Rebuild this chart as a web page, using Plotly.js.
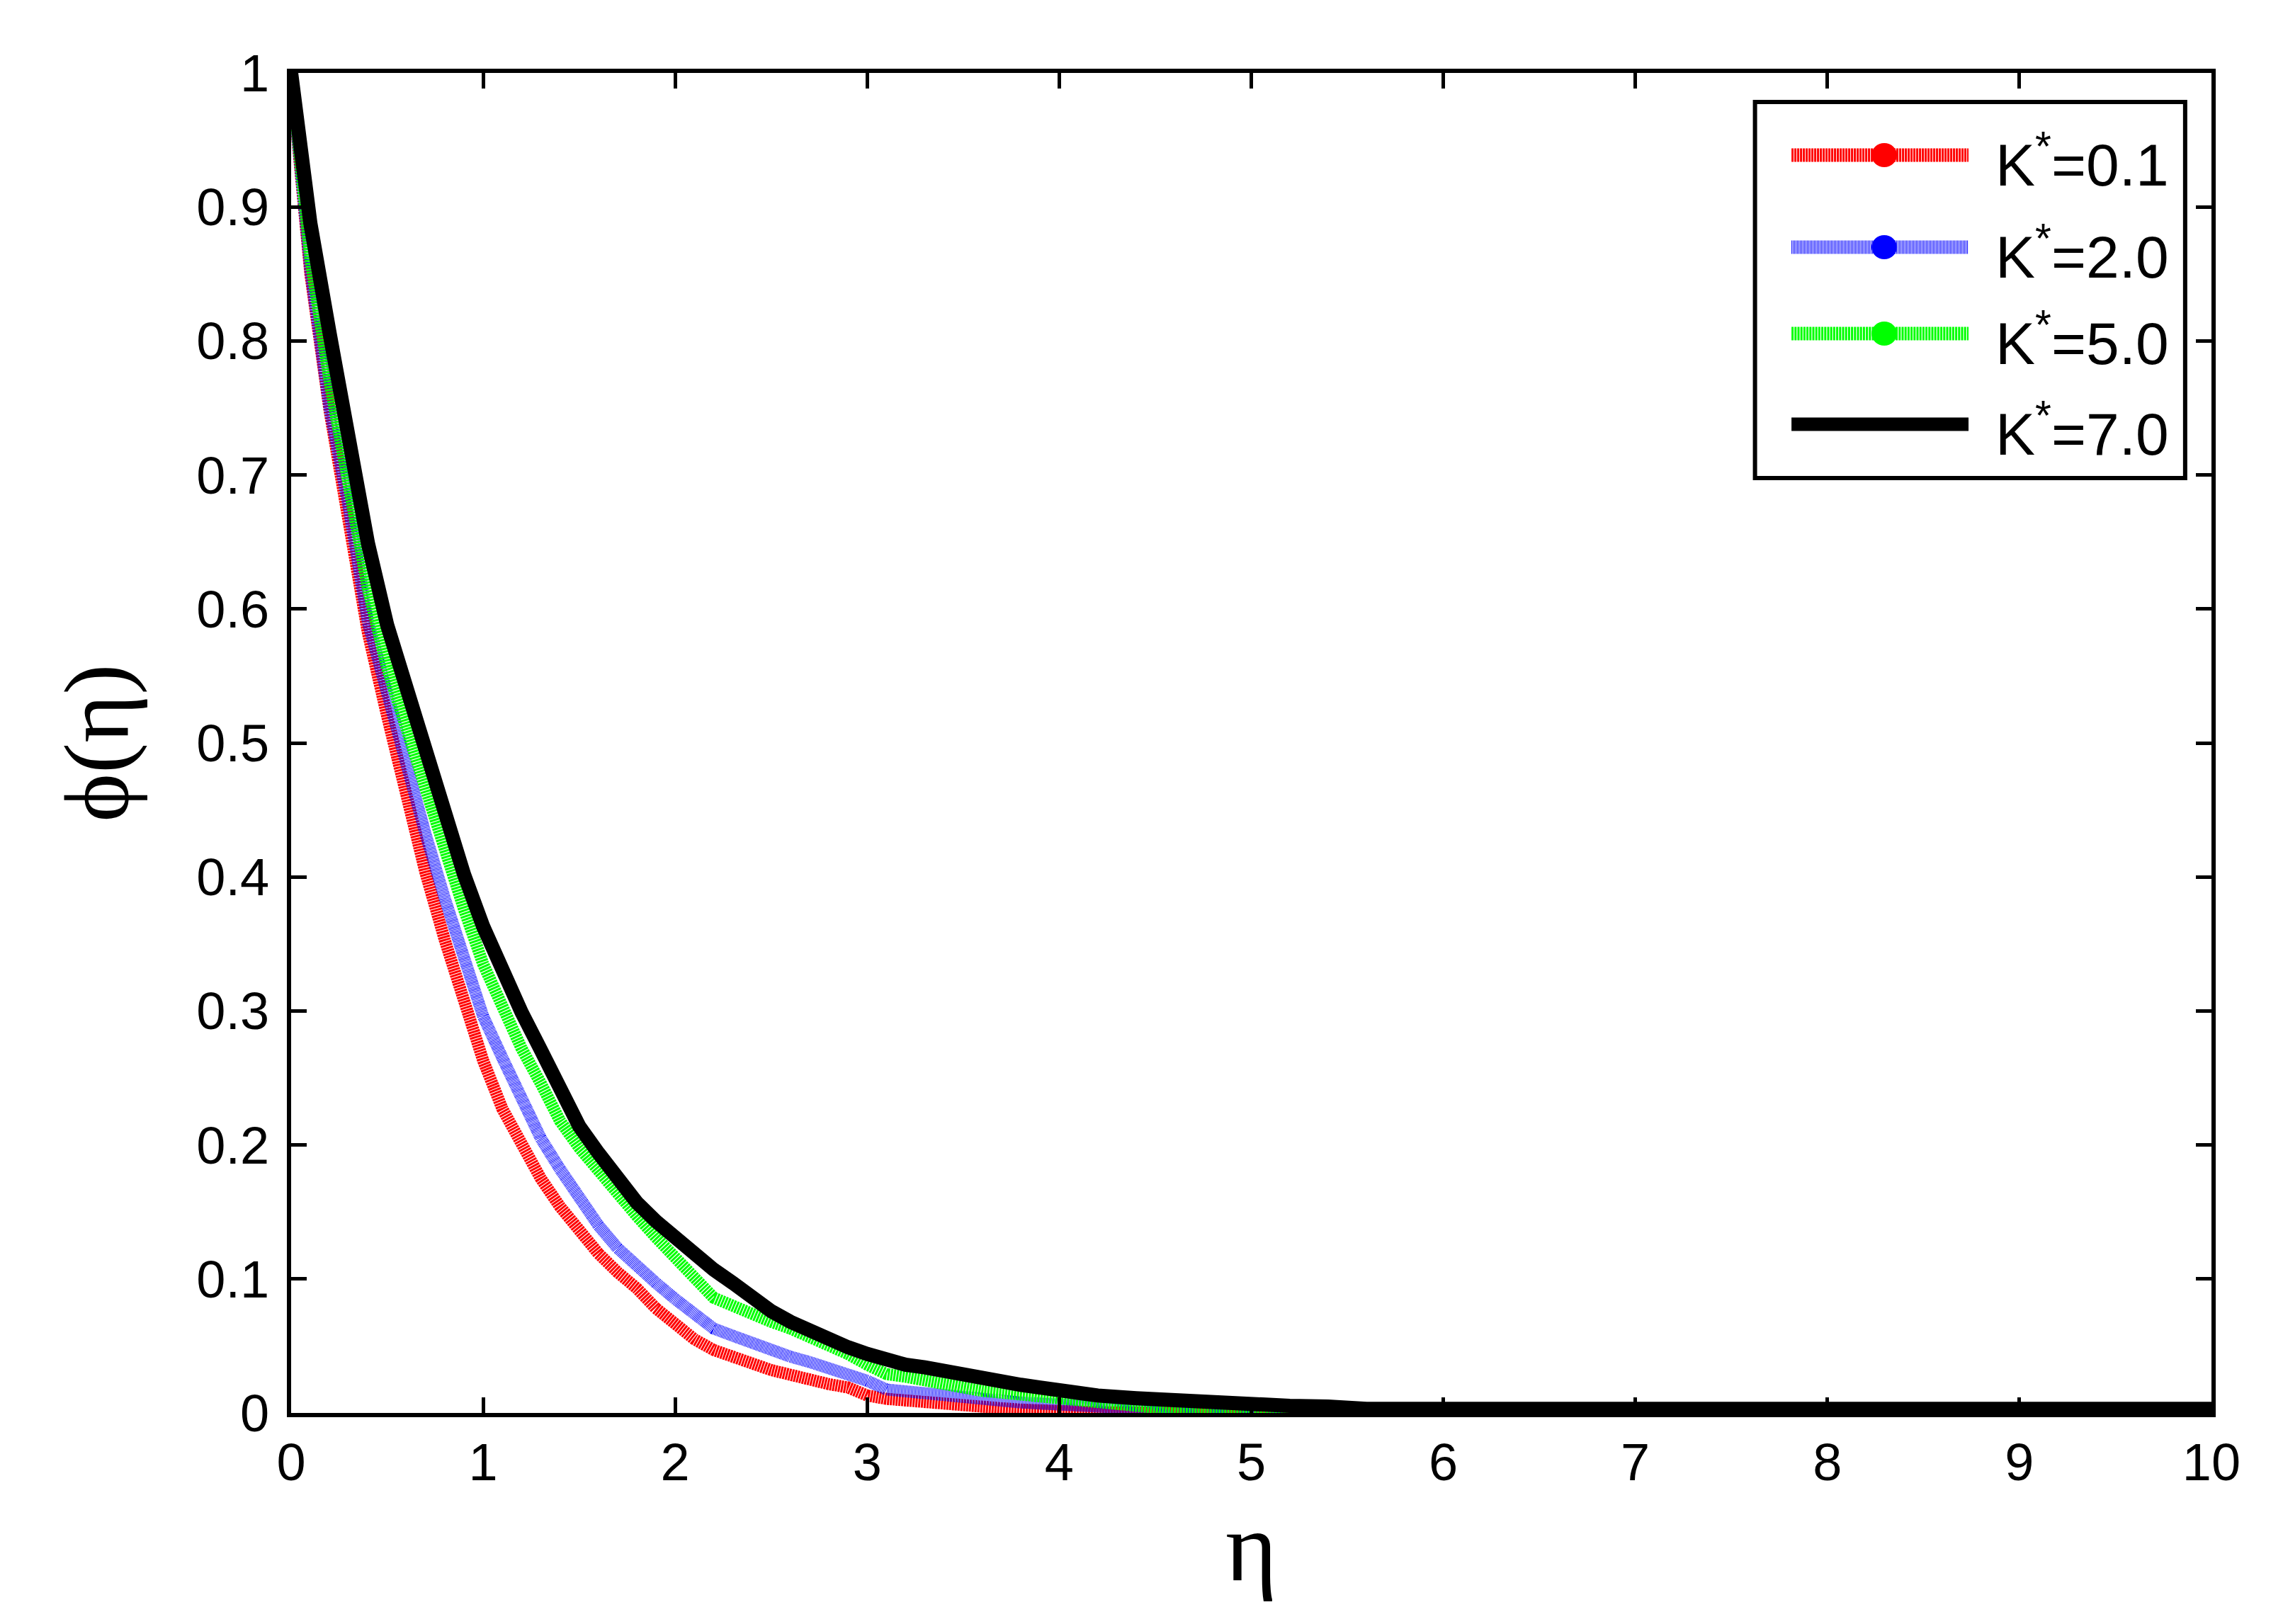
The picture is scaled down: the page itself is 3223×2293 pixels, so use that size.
<!DOCTYPE html>
<html>
<head>
<meta charset="utf-8">
<script src="https://cdn.plot.ly/plotly-3.0.1.min.js"></script>
<style>
  html, body { margin: 0; padding: 0; background: #ffffff; }
  #chart { width: 3223px; height: 2293px; }
</style>
</head>
<body>
<div id="chart"></div>
<script>
// ---- data ----
const eta = [0, 0.1, 0.2, 0.3, 0.4, 0.5, 0.6, 0.7, 0.8, 0.9,
             1.0, 1.1, 1.2, 1.3, 1.4, 1.5, 1.6, 1.7, 1.8, 1.9,
             2.0, 2.1, 2.2, 2.3, 2.4, 2.5, 2.6, 2.7, 2.8, 2.9,
             3.0, 3.1, 3.2, 3.3, 3.4, 3.5, 3.6, 3.7, 3.8, 3.9,
             4.0, 4.2, 4.4, 4.6, 4.8, 5.0, 5.2, 5.4, 5.6,
             6, 7, 8, 9, 10];

const phiK01 = [1.0, 0.85, 0.748, 0.664, 0.582, 0.52, 0.459, 0.403, 0.353, 0.305,
                0.263, 0.227, 0.199, 0.175, 0.154, 0.135, 0.119, 0.105, 0.093, 0.078,
                0.066, 0.055, 0.047, 0.041, 0.037, 0.032, 0.028, 0.025, 0.0215, 0.019,
                0.013, 0.0105, 0.009, 0.0078, 0.006, 0.0048, 0.0043, 0.0035, 0.0025, 0.0015,
                0.0008, 0.0005, 0.0003, 0.0002, 0.0001, 0, 0, 0, 0,
                0, 0, 0, 0, 0];

const phiK20 = [1.0, 0.853, 0.75, 0.676, 0.59, 0.535, 0.486, 0.432, 0.384, 0.339,
                0.296, 0.265, 0.233, 0.205, 0.182, 0.160, 0.140, 0.123, 0.109, 0.097,
                0.085, 0.073, 0.063, 0.0576, 0.052, 0.047, 0.042, 0.038, 0.034, 0.0295,
                0.024, 0.0175, 0.0158, 0.015, 0.0135, 0.011, 0.0097, 0.0088, 0.0078, 0.007,
                0.006, 0.0045, 0.003, 0.0018, 0.001, 0.0005, 0, 0, 0,
                0, 0, 0, 0, 0];

const phiK50 = [1.0, 0.862, 0.77, 0.698, 0.615, 0.556, 0.51, 0.465, 0.419, 0.376,
                0.335, 0.303, 0.272, 0.246, 0.218, 0.198, 0.18, 0.163, 0.147, 0.131,
                0.115, 0.099, 0.086, 0.080, 0.073, 0.068, 0.063, 0.057, 0.050, 0.044,
                0.036, 0.029, 0.027, 0.025, 0.022, 0.019, 0.0165, 0.015, 0.013, 0.011,
                0.0095, 0.007, 0.0045, 0.0026, 0.0015, 0.001, 0.0007, 0.0004, 0,
                0, 0, 0, 0, 0];

const phiK70 = [1.0, 0.888, 0.806, 0.72, 0.649, 0.588, 0.541, 0.499, 0.452, 0.402,
                0.363, 0.329, 0.299, 0.271, 0.243, 0.214, 0.194, 0.175, 0.157, 0.143,
                0.130, 0.119, 0.107, 0.097, 0.086, 0.076, 0.068, 0.061, 0.055, 0.049,
                0.044, 0.039, 0.036, 0.034, 0.031, 0.0275, 0.025, 0.023, 0.021, 0.019,
                0.0165, 0.013, 0.011, 0.009, 0.0075, 0.0062, 0.0053, 0.0048, 0.003,
                0.003, 0.003, 0.003, 0.003, 0.003];

const seriesNames = ['K<sup>*</sup>=0.1', 'K<sup>*</sup>=2.0', 'K<sup>*</sup>=5.0', 'K<sup>*</sup>=7.0'];
const xTickVals = [0, 1, 2, 3, 4, 5, 6, 7, 8, 9, 10];
const yTickVals = [0, 0.1, 0.2, 0.3, 0.4, 0.5, 0.6, 0.7, 0.8, 0.9, 1];

// ---- styles ----
const colors = ['#ff0000', '#0000ff', '#00ff00', '#000000'];
const dashes = ['3px,1px', '1px,1px', '3px,1.2px', 'solid'];
const plotWidths = [17, 17, 17, 20];
const hasMarker = [true, true, true, false];
const series = [phiK01, phiK20, phiK50, phiK70];

const traces = series.map((ys, i) => ({
  type: 'scatter', mode: 'lines', x: eta, y: ys, name: seriesNames[i],
  line: { color: colors[i], width: plotWidths[i], dash: dashes[i], shape: 'linear' },
  showlegend: false, hoverinfo: 'skip'
}));

// ---- hand-built legend box (paper coordinates) ----
const legBox = { x0: 0.7623, x1: 0.9863, y0: 0.6977, y1: 0.9783 };
const legRowY = [0.9387, 0.8700, 0.8055, 0.7378];
const legLineX = [0.7813, 0.8735];
const legMarkX = 0.8296;
const legTextX = 0.8868;
const legTextDy = -0.004;

const shapes = [{
  type: 'rect', xref: 'paper', yref: 'paper',
  x0: legBox.x0, x1: legBox.x1, y0: legBox.y0, y1: legBox.y1,
  line: { color: '#000', width: 6 }, fillcolor: '#ffffff', layer: 'above'
}];
const annotations = [];
seriesNames.forEach((nm, i) => {
  shapes.push({
    type: 'line', xref: 'paper', yref: 'paper',
    x0: legLineX[0], x1: legLineX[1], y0: legRowY[i], y1: legRowY[i],
    line: { color: colors[i], width: 19, dash: dashes[i] }, layer: 'above'
  });
  if (hasMarker[i]) {
    shapes.push({
      type: 'circle', xref: 'paper', yref: 'paper',
      xsizemode: 'pixel', ysizemode: 'pixel',
      xanchor: legMarkX, yanchor: legRowY[i],
      x0: -18, x1: 18, y0: -17, y1: 17,
      line: { width: 0 }, fillcolor: colors[i], layer: 'above'
    });
  }
  annotations.push({
    xref: 'paper', yref: 'paper', x: legTextX, y: legRowY[i] + legTextDy,
    xanchor: 'left', yanchor: 'middle', showarrow: false, text: nm,
    font: { family: 'Liberation Sans, Arial, sans-serif', size: 84, color: '#000' }
  });
});

const tickFont = { family: 'Liberation Sans, Arial, sans-serif', size: 74, color: '#000' };
const titleFont = { family: 'Liberation Serif, Times New Roman, serif', size: 130, color: '#000' };

const axisCommon = {
  showline: true, linecolor: '#000', linewidth: 6, mirror: 'allticks',
  ticks: 'inside', ticklen: 22, tickwidth: 5, tickcolor: '#000',
  showgrid: false, zeroline: false, tickfont: tickFont, fixedrange: true
};

const layout = {
  width: 3223, height: 2293,
  margin: { l: 411, r: 101, t: 103, b: 298, pad: 0 },
  paper_bgcolor: '#ffffff', plot_bgcolor: '#ffffff',
  showlegend: false,
  xaxis: Object.assign({}, axisCommon, {
    range: [0, 10], tickvals: xTickVals, ticktext: xTickVals.map(String),
    ticklabelstandoff: 0,
    title: { text: 'η', font: Object.assign({}, titleFont, { size: 140 }), standoff: 20 }
  }),
  yaxis: Object.assign({}, axisCommon, {
    range: [0, 1], tickvals: yTickVals, ticktext: yTickVals.map(String),
    ticklabelstandoff: 10,
    title: { text: 'ϕ(η)', font: titleFont, standoff: 55 }
  }),
  shapes: shapes,
  annotations: annotations
};

Plotly.newPlot('chart', traces, layout, { staticPlot: true, displayModeBar: false });
</script>
</body>
</html>
